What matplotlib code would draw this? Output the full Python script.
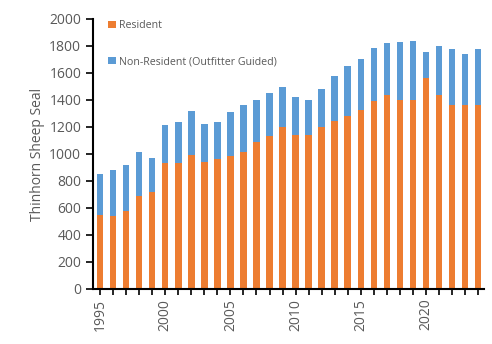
import numpy as np
import matplotlib.pyplot as plt

years = np.arange(1995, 2025)
resident = [548, 543, 578, 691, 715, 931, 931, 993, 940, 961,
            984, 1016, 1087, 1133, 1198, 1141, 1137, 1196, 1247, 1282,
            1322, 1393, 1433, 1401, 1396, 1562, 1433, 1363, 1359, 1359]
total = [852, 879, 916, 1015, 968, 1215, 1234, 1318, 1222, 1234,
         1312, 1364, 1403, 1450, 1494, 1420, 1403, 1479, 1575, 1648,
         1700, 1784, 1818, 1826, 1833, 1752, 1801, 1778, 1740, 1778]
non_resident = [t - r for t, r in zip(total, resident)]

plt.rcParams['font.family'] = ['Open Sans', 'DejaVu Sans']
txt = '#595959'

fig = plt.figure(figsize=(4.92, 3.44), dpi=100)
ax = fig.add_axes([0.189, 0.16, 0.795, 0.785])

ax.bar(years, resident, width=0.5, color='#ED7D31', label='Resident')
ax.bar(years, non_resident, width=0.5, bottom=resident, color='#5B9BD5',
       label='Non-Resident (Outfitter Guided)')

ax.set_xlim(1994.46, 2024.46)
ax.set_ylim(0, 2000)
ax.set_yticks(np.arange(0, 2001, 200))
ax.set_xticks(np.arange(1995, 2025, 5))
ax.set_xticks(years, minor=True)
ax.tick_params(axis='x', which='both', direction='out', length=4, width=1.2, color='black',
               rotation=90, labelsize=10, labelcolor=txt, pad=3)
ax.tick_params(axis='y', direction='out', length=5, width=1.2, color='black',
               labelsize=10, labelcolor=txt)
for s in ['top', 'right']:
    ax.spines[s].set_visible(False)
for s in ['left', 'bottom']:
    ax.spines[s].set_linewidth(1.5)
ax.set_ylabel('Thinhorn Sheep Seal', fontsize=10, color=txt, labelpad=3)

leg = ax.legend(loc='upper left', bbox_to_anchor=(0.015, 1.03), frameon=False,
                fontsize=7.7, labelcolor=txt, handlelength=0.7, handleheight=0.7,
                handletextpad=0.3, labelspacing=2.3)

fig.savefig('out.png', dpi=100)
